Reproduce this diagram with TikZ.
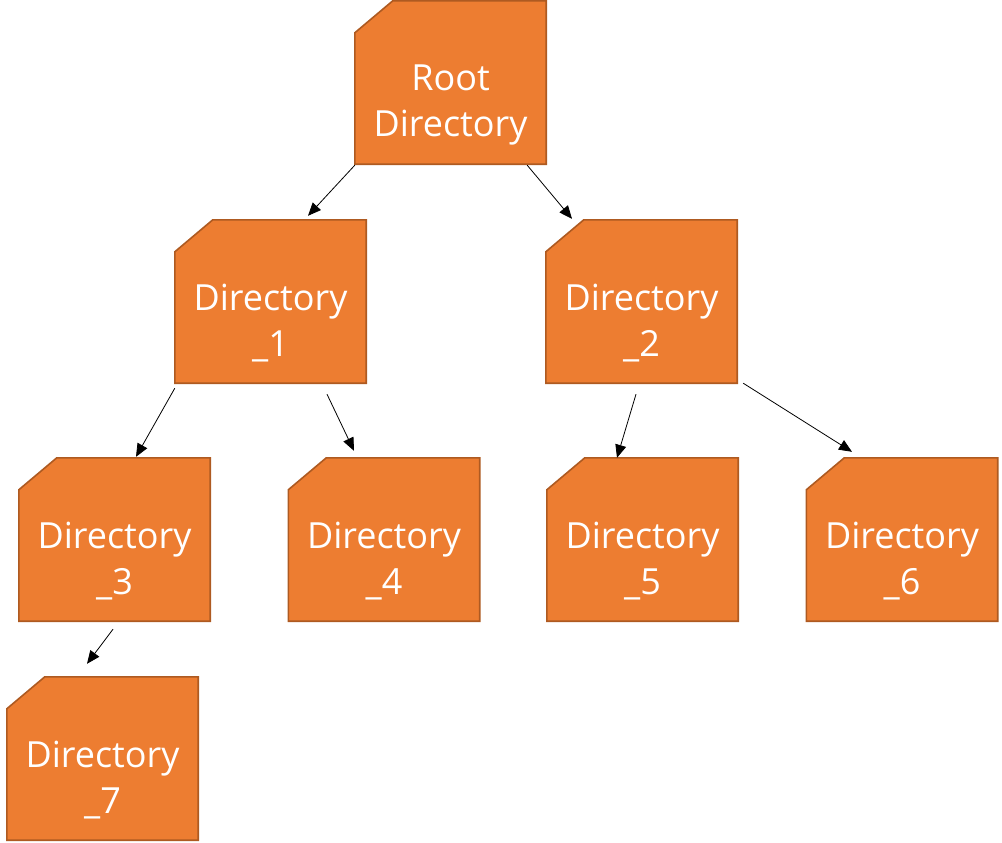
\documentclass[tikz,border=0pt]{standalone}
\usepackage{fontspec}
\setmainfont{Open Sans}
\usetikzlibrary{arrows.meta,backgrounds}
\definecolor{dirfill}{HTML}{ED7D31}
\definecolor{dirline}{HTML}{AE5A21}
\tikzset{dirbox/.style={rectangle,minimum width=191pt,minimum height=163pt,inner sep=0pt,
  text=white,align=center,font=\fontsize{36}{46}\selectfont},
 link/.style={line width=0.8pt,-{Triangle[length=13pt,width=11pt]}}}
\begin{document}
\begin{tikzpicture}[x=1pt,y=-1pt]
 \useasboundingbox (0,0) rectangle (1002,843);
 % directories (text sits 22pt below the middle of each folder)
 \node[dirbox] (root) at (450.5,104.5) {Root\\Directory};
 \node[dirbox] (d1) at (270.5,323.5) {Directory\\\_1};
 \node[dirbox] (d2) at (641.5,323.5) {Directory\\\_2};
 \node[dirbox] (d3) at (114.5,561.5) {Directory\\\_3};
 \node[dirbox] (d4) at (384,561.5) {Directory\\\_4};
 \node[dirbox] (d5) at (642.5,561.5) {Directory\\\_5};
 \node[dirbox] (d6) at (902,561.5) {Directory\\\_6};
 \node[dirbox] (d7) at (102.5,780.5) {Directory\\\_7};
 \begin{pgfonlayer}{background}
  \foreach \n in {root,d1,d2,d3,d4,d5,d6,d7}
   \filldraw[fill=dirfill,draw=dirline,line width=1.6pt] ([yshift=22pt]\n.south west) -- ([yshift=-10pt]\n.north west)
    -- ([xshift=38pt,yshift=22pt]\n.north west) -- ([yshift=22pt]\n.north east) -- ([yshift=22pt]\n.south east) -- cycle;
 \end{pgfonlayer}
 % links
 \draw[link] ([yshift=21pt]root.south west) -- ([xshift=37.5pt,yshift=26pt]d1.north);
 \draw[link] ([xshift=-19pt,yshift=21pt]root.south east) -- ([xshift=-69.5pt,yshift=23pt]d2.north);
 \draw[link] ([yshift=17pt]d1.south west) -- ([xshift=21.5pt,yshift=23pt]d3.north);
 \draw[link] ([xshift=56.5pt,yshift=11pt]d1.south) -- ([xshift=-30pt,yshift=29pt]d4.north);
 \draw[link] ([xshift=-5.5pt,yshift=11pt]d2.south) -- ([xshift=-25.5pt,yshift=22pt]d5.north);
 \draw[link] ([xshift=6pt,yshift=22pt]d2.south east) -- ([xshift=-50pt,yshift=28pt]d6.north);
 \draw[link] ([xshift=-1.5pt,yshift=14pt]d3.south) -- ([xshift=-15.5pt,yshift=35pt]d7.north);
\end{tikzpicture}
\end{document}
